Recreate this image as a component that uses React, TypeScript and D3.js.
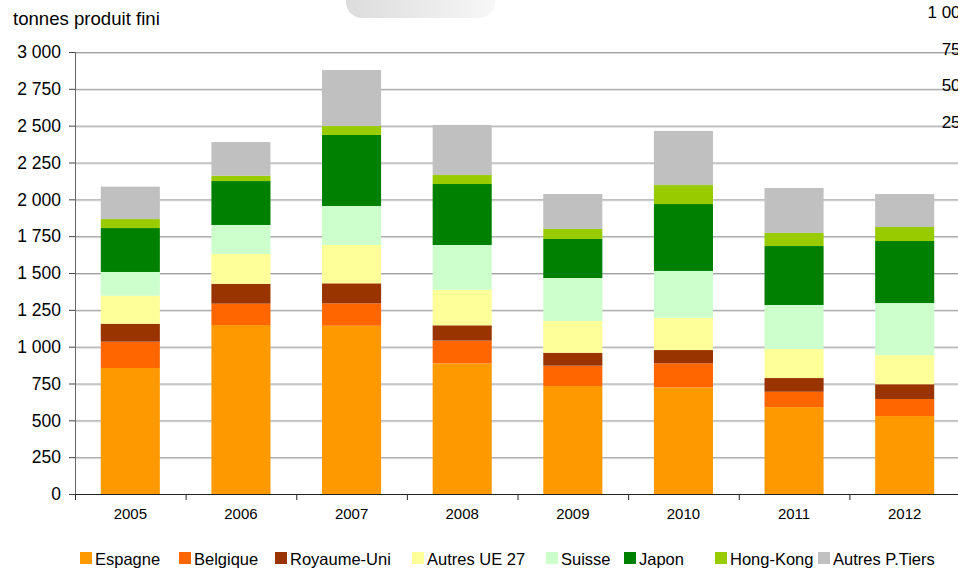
import React, { useEffect, useRef } from "react";
import * as d3 from "d3";

const years = ["2005", "2006", "2007", "2008", "2009", "2010", "2011", "2012"];

const seriesNames = [
  "Espagne",
  "Belgique",
  "Royaume-Uni",
  "Autres UE 27",
  "Suisse",
  "Japon",
  "Hong-Kong",
  "Autres P.Tiers",
];

const seriesColors = [
  "#FF9900",
  "#FF6600",
  "#993300",
  "#FFFF99",
  "#CCFFCC",
  "#008000",
  "#99CC00",
  "#C0C0C0",
];

// tonnes per year, one array per series
const espagne = [855, 1147, 1142, 887, 733, 724, 590, 529];
const belgique = [179, 145, 152, 154, 138, 163, 104, 116];
const royaumeUni = [122, 135, 136, 104, 88, 90, 93, 100];
const autresUE = [190, 202, 260, 240, 215, 218, 197, 198];
const suisse = [161, 197, 265, 305, 292, 319, 299, 353];
const japon = [298, 298, 482, 414, 265, 454, 400, 421];
const hongKong = [61, 36, 61, 61, 68, 129, 89, 95];
const autresPT = [220, 229, 380, 340, 237, 367, 305, 224];

const seriesValues = [espagne, belgique, royaumeUni, autresUE, suisse, japon, hongKong, autresPT];

const yTicks = [0, 250, 500, 750, 1000, 1250, 1500, 1750, 2000, 2250, 2500, 2750, 3000];
const rightTicks = [1000, 750, 500, 250];

const fmt = (v: number) => d3.format(",")(v).replace(/,/g, " ");

export default function App() {
  const svgRef = useRef<SVGSVGElement | null>(null);

  useEffect(() => {
    if (!svgRef.current) return;
    const svg = d3.select(svgRef.current);
    svg.selectAll("*").remove();

    const font = "'Liberation Sans', Arial, sans-serif";

    const table = years.map((yr, i) => {
      const row: any = { year: yr };
      seriesNames.forEach((s, k) => (row[s] = seriesValues[k][i]));
      return row;
    });

    const x = d3.scaleBand().domain(years).range([75, 960]).paddingInner(0.466).paddingOuter(0.233);
    const y = d3.scaleLinear().domain([0, 3000]).range([494, 52]);
    const color = d3.scaleOrdinal<string, string>().domain(seriesNames).range(seriesColors);

    // faint rounded shape at top (from the original slide)
    const defs = svg.append("defs");
    const grad = defs.append("linearGradient").attr("id", "topShape").attr("x1", "0").attr("x2", "1");
    grad.append("stop").attr("offset", "0").attr("stop-color", "#dcdcdc");
    grad.append("stop").attr("offset", "1").attr("stop-color", "#f7f7f7");
    svg
      .append("rect")
      .attr("x", 346)
      .attr("y", -20)
      .attr("width", 149)
      .attr("height", 38)
      .attr("rx", 16)
      .attr("fill", "url(#topShape)");

    // gridlines
    const grid = svg.append("g");
    grid
      .selectAll("line.g2")
      .data(yTicks.filter((t) => t > 0))
      .join("line")
      .attr("x1", 75)
      .attr("x2", 960)
      .attr("y1", (d) => y(d) + 1.5)
      .attr("y2", (d) => y(d) + 1.5)
      .attr("stroke", "#dadada")
      .attr("stroke-width", 1);
    grid
      .selectAll("line.g1")
      .data(yTicks.filter((t) => t > 0))
      .join("line")
      .attr("x1", 75)
      .attr("x2", 960)
      .attr("y1", (d) => y(d) + 0.5)
      .attr("y2", (d) => y(d) + 0.5)
      .attr("stroke", "#a0a0a0")
      .attr("stroke-width", 1);

    // right-hand labels (secondary axis, cut off by the frame as in the source)
    svg
      .append("g")
      .selectAll("text")
      .data(rightTicks)
      .join("text")
      .attr("x", 970)
      .attr("y", (d, i) => 18 + i * 36.7)
      .attr("text-anchor", "end")
      .attr("font-family", font)
      .attr("font-size", 17)
      .attr("fill", "#000")
      .text((d) => fmt(d));

    // stacked bars
    const stacked = d3.stack().keys(seriesNames)(table);
    svg
      .append("g")
      .selectAll("g")
      .data(stacked)
      .join("g")
      .attr("fill", (d) => color(d.key))
      .selectAll("rect")
      .data((d) => d)
      .join("rect")
      .attr("x", (d: any) => x(d.data.year)!)
      .attr("width", x.bandwidth())
      .attr("y", (d) => y(d[1]))
      .attr("height", (d) => y(d[0]) - y(d[1]));

    // y axis
    const yAxis = svg.append("g");
    yAxis
      .append("line")
      .attr("x1", 75.5)
      .attr("x2", 75.5)
      .attr("y1", y(3000))
      .attr("y2", y(0))
      .attr("stroke", "#666");
    yAxis
      .selectAll("line.tick")
      .data(yTicks)
      .join("line")
      .attr("x1", 69)
      .attr("x2", 75)
      .attr("y1", (d) => y(d) + 0.5)
      .attr("y2", (d) => y(d) + 0.5)
      .attr("stroke", "#444");
    yAxis
      .selectAll("text")
      .data(yTicks)
      .join("text")
      .attr("x", 61)
      .attr("y", (d) => y(d))
      .attr("dy", "0.36em")
      .attr("text-anchor", "end")
      .attr("font-family", font)
      .attr("font-size", 17.5)
      .attr("fill", "#000")
      .text((d) => fmt(d));

    // x axis
    const step = x.step();
    const boundaries = years.map((yr) => x(yr)! - (step - x.bandwidth()) / 2).concat([960]);
    const xAxis = svg.append("g");
    xAxis
      .append("line")
      .attr("x1", 75)
      .attr("x2", 960)
      .attr("y1", y(0) + 0.5)
      .attr("y2", y(0) + 0.5)
      .attr("stroke", "#222");
    xAxis
      .selectAll("line.tick")
      .data(boundaries)
      .join("line")
      .attr("x1", (d) => d + 0.5)
      .attr("x2", (d) => d + 0.5)
      .attr("y1", y(0))
      .attr("y2", y(0) + 6)
      .attr("stroke", "#222");
    xAxis
      .selectAll("text")
      .data(years)
      .join("text")
      .attr("x", (d) => x(d)! + x.bandwidth() / 2)
      .attr("y", 519)
      .attr("text-anchor", "middle")
      .attr("font-family", font)
      .attr("font-size", 15)
      .attr("fill", "#000")
      .text((d) => d);

    // unit title
    svg
      .append("text")
      .attr("x", 13)
      .attr("y", 25)
      .attr("font-family", font)
      .attr("font-size", 18.6)
      .attr("fill", "#000")
      .text("tonnes produit fini");

    // legend
    const legendX = [80, 179, 275, 412, 546, 624, 715, 818];
    const legend = svg
      .append("g")
      .selectAll("g")
      .data(seriesNames)
      .join("g")
      .attr("transform", (d, i) => `translate(${legendX[i]},552)`);
    legend
      .append("rect")
      .attr("width", 12)
      .attr("height", 12)
      .attr("fill", (d) => color(d));
    legend
      .append("text")
      .attr("x", 15)
      .attr("y", 12.5)
      .attr("font-family", font)
      .attr("font-size", 16.5)
      .attr("fill", "#000")
      .text((d) => d);
  }, []);

  return (
    <svg
      ref={svgRef}
      width={958}
      height={569}
      style={{ position: "absolute", left: 0, top: 0, background: "#fff" }}
    />
  );
}
